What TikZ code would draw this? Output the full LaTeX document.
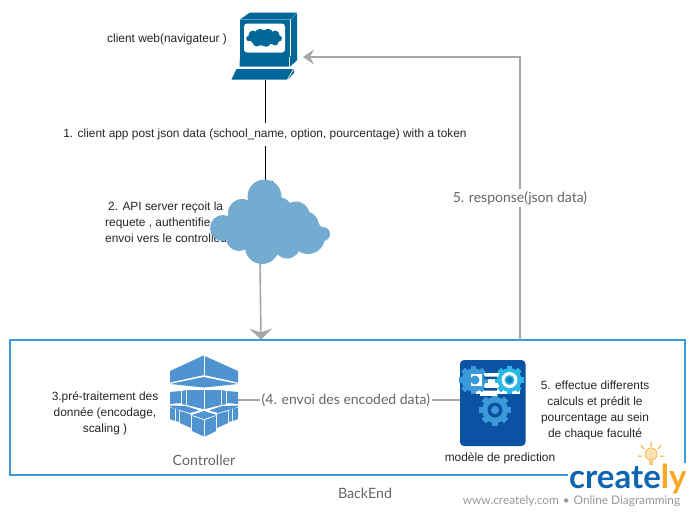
\documentclass[tikz,border=0pt]{standalone}
\usepackage{fontspec}
\setmainfont{Liberation Sans}
\newfontfamily\latofont{Lato}
\usetikzlibrary{arrows.meta}
\definecolor{pcblue}{HTML}{00679A}
\definecolor{cloudblue}{HTML}{73ACD0}
\definecolor{ctrlblue}{HTML}{4F94D0}
\definecolor{modelblue}{HTML}{0B52A5}
\definecolor{framebl}{HTML}{3D9AD8}
\definecolor{linegray}{HTML}{A6A6A6}
\definecolor{labelgray}{HTML}{666666}
\definecolor{txt}{HTML}{262626}
\definecolor{crblue}{HTML}{0F66B0}
\definecolor{crorange}{HTML}{F7A823}
\tikzset{
  anchorbox/.style={minimum width=#1,inner sep=0pt,outer sep=0pt},
  body/.style={font=\fontsize{11.9}{16}\selectfont,text=txt,inner sep=0pt},
  graylabel/.style={font=\latofont\fontsize{14}{16}\selectfont,text=labelgray,inner sep=2pt,fill=white},
  blackline/.style={draw=black,line width=0.9pt},
  grayline/.style={draw=linegray,line width=1.6pt},
  arrowline/.style={grayline,-{Stealth[length=11pt,width=#1,inset=4pt]}},
  pcface/.style={fill=pcblue,draw=none},
  ctrl/.style={fill=ctrlblue,draw=none},
}
\newcommand{\gearshape}[4]{% x, y, radius, colour
  \begin{scope}[shift={(#1,#2)}]
    \foreach \a in {0,45,...,315}{
      \fill[#4,rotate=\a] (-0.22*#3,-1.2*#3) rectangle (0.22*#3,1.2*#3);
    }
    \fill[#4] (0,0) circle[radius=#3];
  \end{scope}
}
\begin{document}
\begin{tikzpicture}[x=1pt,y=-1pt]
\useasboundingbox (0,0) rectangle (695,514);
\fill[white] (0,0) rectangle (695,514);

% anchors for the connectors
\node[anchorbox=60pt,minimum height=72pt] (pc) at (265,44) {};
\node[anchorbox=118pt,minimum height=82pt] (cloud) at (265,223) {};
\node[anchorbox=68pt,minimum height=80pt] (controller) at (204,396) {};
\node[anchorbox=66pt,minimum height=86pt] (model) at (493,403) {};
\node[draw=framebl,line width=1.5pt,minimum width=675pt,minimum height=135pt,inner sep=0pt] (frame) at (347.5,407.5) {};
\coordinate (respfoot) at (520,340);
\coordinate (respbend) at (520,57);
\coordinate (resphead) at (303,57);
\coordinate (cloudfoot) at (260,262);
\coordinate (framehit) at (261,339.5);

% connectors
\draw[blackline,-{Bar[width=15pt,line width=0.7pt]}] (pc.south) -- node[pos=0.53,fill=white,body,inner ysep=6pt,inner xsep=2pt] {1. client app post json data (school\_name, option, pourcentage) with a token} (cloud.north);
\draw[arrowline=23pt] (cloudfoot) -- (framehit);
\draw[grayline,line width=1.1pt] (controller.east |- 0,400) -- node[graylabel,pos=0.486] {(4. envoi des encoded data)} (model.west |- 0,400);
\draw[arrowline=15pt,line width=1.3pt] (respfoot) -- node[graylabel,pos=0.502] {5. response(json data)} (respbend) -- (resphead);

% computer
\fill[pcface] (240,19.5) -- (250,12.5) -- (297,12.5) -- (290,19.5) -- cycle;
\fill[pcface] (291,19) -- (297,13) -- (297,50) -- (291,56.5) -- cycle;
\fill[pcface] (291,58) -- (297,60) -- (290,66.5) -- cycle;
\fill[pcface] (240,19.5) rectangle (290,56.5);
\fill[white,rounded corners=3pt] (244,23.5) rectangle (285,52.5);
\fill[pcface] (249,38.5) circle[radius=2.8] (253,35) circle[radius=4.5] (260,34) circle[radius=5.2] (268,33.5) circle[radius=4.8] (275,35) circle[radius=4.5] (279,38.5) circle[radius=3] (275,42) circle[radius=3.5] (266,42) circle[radius=4.8] (257,42) circle[radius=4.5] (264,38) circle[radius=8] (271,38) circle[radius=6] (256,38) circle[radius=6];
\fill[pcface] (240,57) -- (289,57) -- (289,66.5) -- (239.5,66.5) -- cycle;
\fill[pcface] (290,57) -- (297,49) -- (297,60) -- (290,66.5) -- cycle;
\fill[pcface] (236.5,69) -- (293,69) -- (287,79.5) -- (231.5,79.5) -- cycle;
\fill[pcface] (294,69.5) -- (294,73) -- (288,79.5) -- cycle;

\node[body,anchor=west] (clientlabel) at (107,39) {client web(navigateur )};
\node[body,anchor=north west,align=left] (apitext) at (105,201.5) {\hspace{3pt}2. API server reçoit la\\requete , authentifie\\envoi vers le controlleur};

% cloud
\fill[cloudblue] (264.5,196.5) circle[radius=17] (242,213) circle[radius=14] (223,228) circle[radius=13] (239,238) circle[radius=13] (262,247) circle[radius=17] (287,245) circle[radius=13.5] (308,237) circle[radius=17] (296,215) circle[radius=13.5] (323,234) circle[radius=7] (278,212) circle[radius=15] (265,225) circle[radius=24] (285,226) circle[radius=20] (304,226) circle[radius=15] (240,226) circle[radius=15];

% controller icon
\fill[ctrl] (203.5,355.5) -- (238,371) -- (238,382.5) -- (204,375) -- (170,382.5) -- (170,371) -- cycle;
\fill[ctrl] (170,384) -- (203.5,377) -- (238,384) -- (204,387.5) -- cycle;
\draw[white,line width=0.8pt] (204,355) -- (204,375);
\fill[ctrl] (187,390) -- (221,390) -- (221,405) -- (204,409.3) -- (187,405) -- cycle;
\draw[white,line width=0.8pt] (204,390) -- (204,409);
\fill[ctrl] (170,392) -- (181,391) -- (181,403) -- (170,404) -- cycle;
\fill[ctrl] (182,391) -- (186,390) -- (186,405) -- (182,404) -- cycle;
\fill[ctrl] (238,392) -- (227,391) -- (227,403) -- (238,404) -- cycle;
\fill[ctrl] (226,391) -- (222,390) -- (222,405) -- (226,404) -- cycle;
\fill[ctrl] (170,405.5) -- (186,406) -- (199,410.5) -- (190,413) -- (178,409.5) -- (170,407) -- cycle;
\fill[ctrl] (238,405.5) -- (222,406) -- (209,410.5) -- (218,413) -- (230,409.5) -- (238,407) -- cycle;
\fill[ctrl] (170,408) -- (175,408.5) -- (175,421) -- (170,419) -- cycle;
\fill[ctrl] (176,409) -- (179,410) -- (179,422) -- (176,421) -- cycle;
\fill[ctrl] (180,411) -- (190,414) -- (191,416) -- (191,428) -- (180,423) -- cycle;
\fill[ctrl] (192,416) -- (204,420) -- (204,436.5) -- (192,431) -- cycle;
\fill[ctrl] (205,420) -- (216,416) -- (216,431) -- (205,436.5) -- cycle;
\fill[ctrl] (217,414) -- (228,411) -- (228,423) -- (217,428) -- cycle;
\fill[ctrl] (229,410) -- (232,409) -- (232,421) -- (229,422) -- cycle;
\fill[ctrl] (233,408.5) -- (238,408) -- (238,419) -- (233,421) -- cycle;
\fill[ctrl] (191.7,415) -- (204,411) -- (216.7,415) -- (204,419) -- cycle;
\node[body,align=center,anchor=center] (pretext) at (105,413.5) {3.pré-traitement des\\donnée (encodage,\\scaling )};
\node[font=\latofont\fontsize{14.2}{16}\selectfont,text=labelgray,inner sep=0pt] (ctrllabel) at (204,460) {Controller};

% model icon
\fill[modelblue,rounded corners=4pt] (460,360) rectangle (525.5,446);
\fill[white] (471,373) rectangle (520,394);
\gearshape{473.5}{380}{12}{framebl}
\gearshape{509.5}{380}{12}{framebl!70!cyan}
\gearshape{495}{410}{13}{framebl}
\fill[white] (471,374) rectangle (482,386);
\fill[framebl] (475,380) circle[radius=4.5];
\fill[modelblue] (484,376.5) rectangle (497,379) (484,388) rectangle (497,390.5);
\fill[white] (480,394) rectangle (497,396);
\fill[white] (509.5,380) circle[radius=8];
\fill[framebl!70!cyan] (509.5,380) circle[radius=5];
\fill[modelblue!70!cyan] (509.5,380) circle[radius=3.4];
\fill[modelblue] (495,410) circle[radius=7.5];
\fill[framebl] (495,410) circle[radius=4];
\node[body,anchor=center] (modellabel) at (500,458) {modèle de prediction};
\node[body,align=center,anchor=center] (modeltext) at (595,410) {5. effectue differents\\calculs et prédit le\\pourcentage au sein\\de chaque faculté};

\node[font=\latofont\fontsize{14.2}{16}\selectfont,text=labelgray,inner sep=0pt] (backend) at (365,493) {BackEnd};

% watermark
\fill[white] (568,463) rectangle (695,496);
\node[font=\latofont\bfseries\fontsize{33}{33}\selectfont,inner sep=0pt,anchor=base west] (logo) at (569,488) {\textcolor{crblue}{create}\textcolor{crorange}{ly}};
\fill[crorange!35] (651,454) circle[radius=5.5];
\draw[crorange,line width=0.7pt] (651,454) circle[radius=6];
\draw[crorange,line width=1pt] (651,447) -- (651,441.5) (644,449) -- (641,445.5) (658,449) -- (661,445.5) (642,456) -- (638,456) (660,456) -- (664,456);
\fill[crorange!60] (649,460) rectangle (653,465);
\node[font=\latofont\fontsize{11.85}{14}\selectfont,text=black!40,inner sep=0pt] (wm) at (571.5,501) {www.creately.com\,\,•\,\,Online Diagramming};
\end{tikzpicture}
\end{document}
